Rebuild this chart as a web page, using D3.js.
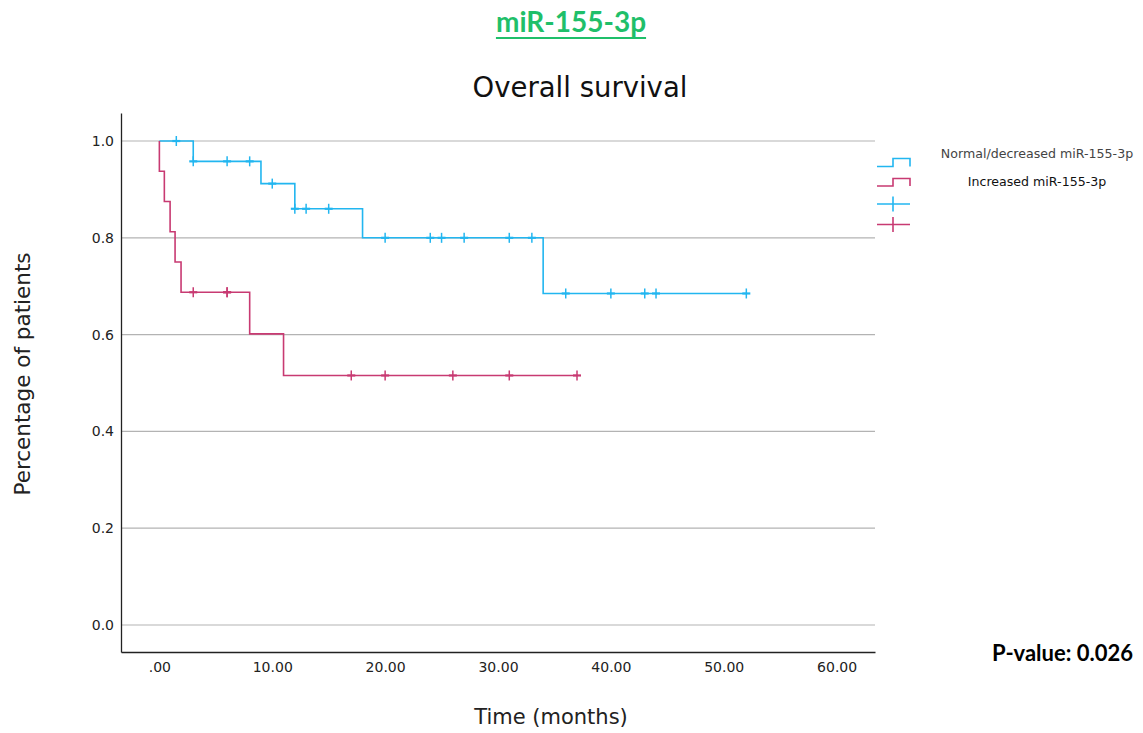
<!DOCTYPE html>
<html>
<head>
<meta charset="utf-8">
<script src="https://cdn.jsdelivr.net/npm/d3@7"></script>
<style>
  html, body { margin: 0; padding: 0; background: #ffffff; }
  svg { display: block; }
</style>
</head>
<body>
<svg id="chart" width="1143" height="733"></svg>
<script>
// ---------------- data ----------------
const seriesNames = ["Normal/decreased miR-155-3p", "Increased miR-155-3p"];
// Kaplan–Meier step times (months) and survival after each step
const blueStepTimes = [3, 9, 12, 18, 34];
const blueStepSurv  = [0.958, 0.912, 0.860, 0.800, 0.685];
const blueCensored  = [1.5, 3, 6, 8, 10, 12, 13, 15, 20, 24, 25, 27, 31, 33, 36, 40, 43, 44, 52];
const blueEnd = 52;

const redStepTimes = [0, 0.44, 0.95, 1.39, 1.92, 8, 11];
const redStepSurv  = [0.9375, 0.875, 0.8125, 0.75, 0.6875, 0.6016, 0.5156];
const redCensored  = [3, 6, 6, 17, 20, 26, 31, 37];
const redEnd = 37;

const xTicks = [0, 10, 20, 30, 40, 50, 60];
const yTicks = [0, 0.2, 0.4, 0.6, 0.8, 1.0];

const blueColor = "#22b6f0";
const redColor = "#c83a72";

// ---------------- chart ----------------
const svg = d3.select("#chart");
svg.append("rect").attr("width", 1143).attr("height", 733).attr("fill", "#fff");

const x = d3.scaleLinear().domain([-3.4, 63.4]).range([121, 875]);
const y = d3.scaleLinear().domain([-0.0558, 1.0579]).range([652, 113]);

// grid lines
svg.append("g").selectAll("line").data(yTicks).join("line")
  .attr("x1", 121).attr("x2", 875)
  .attr("y1", d => y(d)).attr("y2", d => y(d))
  .attr("stroke", "#b3b3b3").attr("stroke-width", 1.2);

// axes
const xAxis = d3.axisBottom(x).tickValues(xTicks).tickSize(0).tickSizeOuter(0).tickPadding(10)
  .tickFormat(d => d === 0 ? ".00" : d3.format(".2f")(d));
const gx = svg.append("g").attr("transform", "translate(0,652)").call(xAxis);
gx.select(".domain").attr("stroke", "#222").attr("stroke-width", 1.3);
gx.selectAll("text").attr("font-family", "DejaVu Sans").attr("font-size", "14px").attr("fill", "#222");

const yAxis = d3.axisLeft(y).tickValues(yTicks).tickSize(0).tickSizeOuter(0).tickPadding(7)
  .tickFormat(d3.format(".1f"));
const gy = svg.append("g").attr("transform", "translate(121,0)").call(yAxis);
gy.select(".domain").attr("stroke", "#222").attr("stroke-width", 1.3);
gy.selectAll("text").attr("font-family", "DejaVu Sans").attr("font-size", "14px").attr("fill", "#222");

// step path builder
function stepPoints(times, survs, end) {
  const pts = [[0, 1]];
  let s = 1;
  times.forEach((t, i) => {
    pts.push([t, s]);
    s = survs[i];
    pts.push([t, s]);
  });
  pts.push([end, s]);
  return pts;
}
function survAt(times, survs, t) {
  let s = 1;
  times.forEach((tt, i) => { if (tt <= t) s = survs[i]; });
  return s;
}
const line = d3.line().x(d => x(d[0])).y(d => y(d[1]));

function drawSeries(times, survs, end, censored, color) {
  const g = svg.append("g");
  g.append("path").datum(stepPoints(times, survs, end))
    .attr("d", line).attr("fill", "none")
    .attr("stroke", color).attr("stroke-width", 1.6);
  const m = g.selectAll("g.c").data(censored).join("g")
    .attr("transform", d => `translate(${x(d)},${y(survAt(times, survs, d))})`);
  m.append("line").attr("x1", 0).attr("x2", 0).attr("y1", -5).attr("y2", 5)
    .attr("stroke", color).attr("stroke-width", 1.5);
  m.append("line").attr("x1", -4).attr("x2", 4).attr("y1", 0).attr("y2", 0)
    .attr("stroke", color).attr("stroke-width", 2.2);
}
drawSeries(blueStepTimes, blueStepSurv, blueEnd, blueCensored, blueColor);
drawSeries(redStepTimes, redStepSurv, redEnd, redCensored, redColor);

// legend
const lg = svg.append("g");
function legStep(yLow, yHigh, color) {
  lg.append("path")
    .attr("d", `M877,${yLow}H893V${yHigh}H910V${yLow}`)
    .attr("fill", "none").attr("stroke", color).attr("stroke-width", 1.6);
}
function legPlus(yc, color) {
  lg.append("line").attr("x1", 877).attr("x2", 910).attr("y1", yc).attr("y2", yc)
    .attr("stroke", color).attr("stroke-width", 1.6);
  lg.append("line").attr("x1", 893).attr("x2", 893).attr("y1", yc - 7.5).attr("y2", yc + 7.5)
    .attr("stroke", color).attr("stroke-width", 1.6);
}
legStep(166.5, 158.5, blueColor);
legStep(186, 178.5, redColor);
legPlus(204, blueColor);
legPlus(224.5, redColor);
lg.append("text").attr("x", 1037).attr("y", 158).attr("text-anchor", "middle")
  .attr("font-family", "DejaVu Sans").attr("font-size", "12.6px").attr("fill", "#444")
  .text(seriesNames[0]);
lg.append("text").attr("x", 1037).attr("y", 186).attr("text-anchor", "middle")
  .attr("font-family", "DejaVu Sans").attr("font-size", "12.6px").attr("fill", "#111")
  .text(seriesNames[1]);

// titles
const hdr = svg.append("text").attr("x", 571).attr("y", 32).attr("text-anchor", "middle")
  .attr("font-family", "Lato").attr("font-weight", 700).attr("font-size", "28px")
  .attr("fill", "#1fbf6a").text("miR-155-3p");
const hw = hdr.node().getComputedTextLength();
svg.append("line").attr("x1", 571 - hw / 2).attr("x2", 571 + hw / 2)
  .attr("y1", 38).attr("y2", 38).attr("stroke", "#1fbf6a").attr("stroke-width", 2.2);

svg.append("text").attr("x", 580).attr("y", 97).attr("text-anchor", "middle")
  .attr("font-family", "DejaVu Sans").attr("font-size", "27.5px").attr("fill", "#111")
  .text("Overall survival");

svg.append("text").attr("x", 551).attr("y", 724).attr("text-anchor", "middle")
  .attr("font-family", "DejaVu Sans").attr("font-size", "21px").attr("fill", "#222")
  .text("Time (months)");

svg.append("text").attr("transform", "translate(30,374) rotate(-90)").attr("text-anchor", "middle")
  .attr("font-family", "DejaVu Sans").attr("font-size", "21.5px").attr("fill", "#222")
  .text("Percentage of patients");

svg.append("text").attr("x", 1133).attr("y", 661).attr("text-anchor", "end")
  .attr("font-family", "Lato").attr("font-weight", 700).attr("font-size", "22px")
  .attr("fill", "#000").text("P-value: 0.026");
</script>
</body>
</html>
